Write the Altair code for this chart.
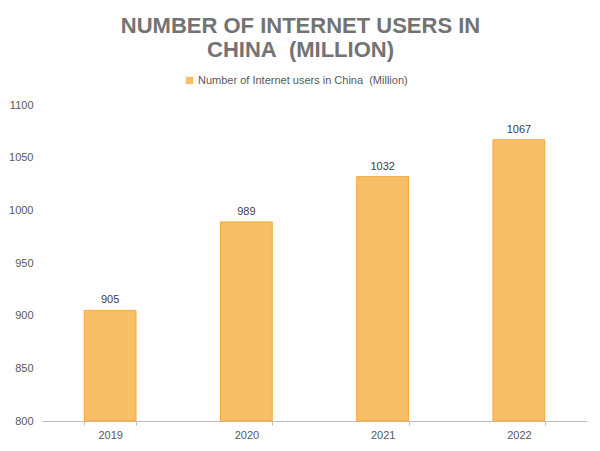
import altair as alt
import pandas as pd

years = ["2019", "2020", "2021", "2022"]
users = [905, 989, 1032, 1067]
series_name = "Number of Internet users in China\u00a0 (Million)"

df = pd.DataFrame({"year": years, "users": users, "series": [series_name] * len(years)})

base = alt.Chart(df)

bars = base.mark_bar(fill="#F8BF66", stroke="#F5A73A", strokeWidth=1).encode(
    x=alt.X("year:N", sort=years, title=None,
            scale=alt.Scale(paddingInner=0.62, paddingOuter=0.31),
            axis=alt.Axis(labelAngle=0, tickBand="extent", domainColor="#BFBFBF",
                          tickColor="#BFBFBF", tickSize=4, labelColor="#595959",
                          labelFontSize=11, labelPadding=4, labelFont="Liberation Sans")),
    y=alt.Y("users:Q", title=None,
            scale=alt.Scale(domain=[800, 1100], nice=False, zero=False),
            axis=alt.Axis(values=[800, 850, 900, 950, 1000, 1050, 1100], grid=False,
                          format="d", domain=False, ticks=False, labelColor="#595959",
                          labelFontSize=11, labelPadding=9, labelFont="Liberation Sans")),
    y2=alt.datum(800),
    opacity=alt.Opacity("series:N", scale=alt.Scale(range=[1]),
                        legend=alt.Legend(title=None, orient="none", legendX=142, legendY=-30,
                                          symbolType="square", symbolSize=55,
                                          symbolFillColor="#F5A73A", symbolStrokeWidth=0,
                                          labelOffset=3, labelColor="#595959", labelFontSize=11,
                                          labelFont="Liberation Sans", labelLimit=400)),
)

labels = base.mark_text(dy=-10, fontSize=11, color="#404040", font="Liberation Sans").encode(
    x=alt.X("year:N", sort=years),
    y=alt.Y("users:Q"),
    text=alt.Text("users:Q"),
)

chart = (bars + labels).properties(
    width=545,
    height=316,
    autosize=alt.AutoSizeParams(type="none"),
    padding={"left": 34, "top": 97, "right": 5, "bottom": 22},
    title=alt.Title(["NUMBER OF INTERNET USERS IN", "CHINA\u00a0 (MILLION)"],
                    anchor="middle", frame="group", dx=-14, offset=13,
                    font="Liberation Sans", fontSize=22, fontWeight="bold",
                    color="#737373", lineHeight=24),
).configure_view(stroke=None)

chart.save("out.html", embed_options={"renderer": "svg", "actions": False})
